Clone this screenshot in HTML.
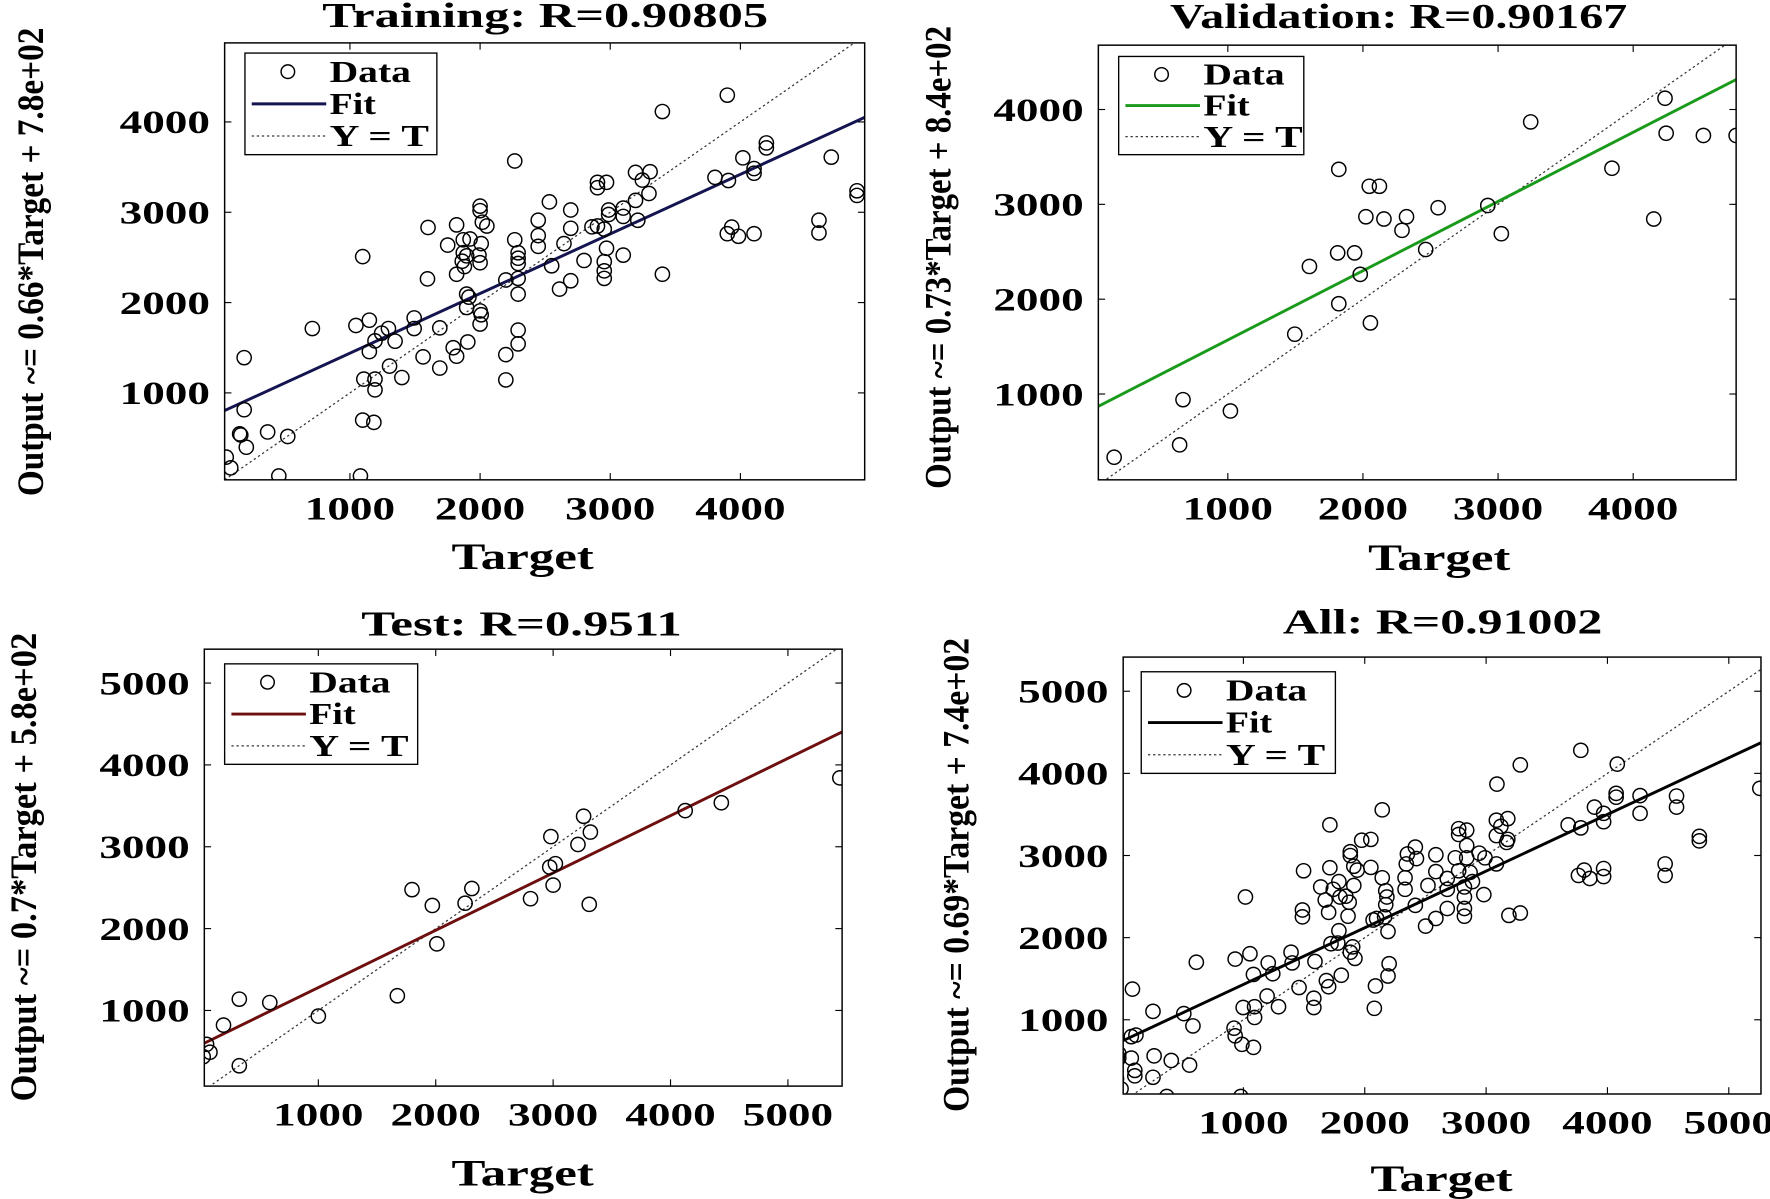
<!DOCTYPE html>
<html><head><meta charset="utf-8"><style>
html,body{margin:0;padding:0;background:#fff;}
svg{display:block;}
text{font-family:"Liberation Serif",serif;font-weight:bold;fill:#000;}
</style></head><body>
<svg id="s" width="1770" height="1199" viewBox="0 0 1568 1062" preserveAspectRatio="none" xmlns="http://www.w3.org/2000/svg"></svg>
<script>
const S=document.getElementById('s');let h='';
function T(x,y,fs,anchor,len,s){return `<text x="${x}" y="${y}" font-size="${fs}" text-anchor="${anchor}" textLength="${len}" lengthAdjust="spacingAndGlyphs">${s}</text>`;}
function P(o){
 const [x1,y1,x2,y2]=o.box;
 const X=d=>o.x0+d*o.kx, Y=d=>o.y0-d*o.ky;
 const dx1=(x1-o.x0)/o.kx, dx2=(x2-o.x0)/o.kx;
 h+=`<clipPath id="c${o.id}"><rect x="${x1}" y="${y1}" width="${x2-x1}" height="${y2-y1}"/></clipPath>`;
 h+=`<g clip-path="url(#c${o.id})">`;
 h+=`<line x1="${X(dx1)}" y1="${Y(dx1)}" x2="${X(dx2)}" y2="${Y(dx2)}" stroke="#333" stroke-width="1.1" stroke-dasharray="2,2.5"/>`;
 h+=`<line x1="${x1}" y1="${Y(o.a*dx1+o.b)}" x2="${x2}" y2="${Y(o.a*dx2+o.b)}" stroke="${o.col}" stroke-width="2.6"/>`;
 o.pts.forEach(p=>{const q=o.map(p);h+=`<circle cx="${q[0].toFixed(1)}" cy="${q[1].toFixed(1)}" r="6.3" fill="none" stroke="#000" stroke-width="1.3"/>`;});
 h+=`</g>`;
 h+=`<rect x="${x1}" y="${y1}" width="${x2-x1}" height="${y2-y1}" fill="none" stroke="#000" stroke-width="1.3"/>`;
 o.xt.forEach(t=>{const x=X(t);h+=`<line x1="${x}" y1="${y2}" x2="${x}" y2="${y2-6}" stroke="#000"/><line x1="${x}" y1="${y1}" x2="${x}" y2="${y1+6}" stroke="#000"/>`+T(x,y2+35,29,"middle",80,t);});
 o.yt.forEach(t=>{const y=Y(t);h+=`<line x1="${x1}" y1="${y}" x2="${x1+6}" y2="${y}" stroke="#000"/><line x1="${x2}" y1="${y}" x2="${x2-6}" y2="${y}" stroke="#000"/>`+T(x1-13,y+10,29,"end",80,t);});
 const [lx,ly,lw,lh]=o.leg;
 h+=`<rect x="${lx}" y="${ly}" width="${lw}" height="${lh}" fill="#fff" stroke="#000" stroke-width="1.2"/>`;
 const r=lh/3;
 h+=`<circle cx="${lx+38}" cy="${ly+r*0.55}" r="6" fill="none" stroke="#000" stroke-width="1.3"/>`;
 h+=T(lx+75,ly+r*0.55+9,27,"start",72,"Data");
 h+=`<line x1="${lx+6}" y1="${ly+r*1.5}" x2="${lx+72}" y2="${ly+r*1.5}" stroke="${o.col}" stroke-width="2.6"/>`;
 h+=T(lx+75,ly+r*1.5+9,27,"start",41,"Fit");
 h+=`<line x1="${lx+6}" y1="${ly+r*2.45}" x2="${lx+72}" y2="${ly+r*2.45}" stroke="#333" stroke-width="1.1" stroke-dasharray="2,2.5"/>`;
 h+=T(lx+75,ly+r*2.45+9,27,"start",88,"Y = T");
 h+=T(o.t[0],o.t[1],31,"middle",o.t[2],o.title);
 h+=T(o.xl[0],o.xl[1],33,"middle",126,"Target");
 h+=`<text transform="translate(${o.yl[0]},${o.yl[1]}) rotate(-90)" font-size="33" text-anchor="middle" textLength="${o.yl[2]}" lengthAdjust="spacingAndGlyphs">${o.ylab}</text>`;
}
const id=p=>p;
const tr=[[1292,248],[1176,291],[912,420],[1478,410],[1320,412],[1362,373],[1362,386],[1340,440],[1340,452],[1270,463],[1294,471],[1524,498],[1524,510],[1154,448],[1128,450],[1140,470],[1152,505],[1128,523],[1060,476],[1060,490],[1076,476],[974,527],[1012,548],[1080,548],[1080,560],[1106,543],[1106,565],[1132,575],[954,575],[850,538],[850,550],[854,580],[862,590],[757,594],[808,587],[1456,575],[1456,608],[1292,610],[1300,593],[1312,617],[1340,610],[1012,596],[1050,592],[1060,590],[1072,598],[954,615],[912,626],[1000,636],[832,624],[820,626],[792,640],[852,636],[954,643],[918,660],[918,674],[918,688],[820,660],[826,668],[818,682],[848,666],[850,686],[808,716],[822,696],[978,694],[1036,680],[1072,683],[1072,707],[1072,727],[1106,666],[1076,648],[1176,716],[1012,733],[992,755],[896,731],[918,727],[918,768],[756,728],[640,670],[826,768],[830,776],[826,803],[850,812],[852,822],[850,846],[778,856],[732,830],[732,858],[628,850],[652,836],[550,858],[686,858],[674,870],[662,890],[698,891],[652,918],[748,932],[802,908],[808,930],[828,893],[896,926],[918,862],[918,898],[778,961],[688,956],[710,986],[642,990],[662,990],[662,1018],[896,992],[428,934],[428,1070],[420,1133],[422,1136],[470,1128],[506,1140],[432,1168],[396,1194],[404,1222],[490,1243],[636,1243],[640,1097],[660,1103]];
P({id:1,box:[199,38,766,425],x0:194.7,kx:0.1153,y0:428,ky:0.080,a:0.66,b:780,col:"#141450",
 pts:tr,map:p=>{let px=194.7+(p[0]-409)*0.5086;px=585+(px-585)*0.974+2;return [px,428-(1262-p[1])*0.339];},
 xt:[1000,2000,3000,4000],yt:[1000,2000,3000,4000],leg:[217,47,170,90],
 t:[483,24,395],title:"Training: R=0.90805",xl:[463,504],yl:[38,232,415],ylab:"Output ~= 0.66*Target + 7.8e+02"});
const va=[[1475,87],[1356,108],[1476,118],[1509,120],[1538,120],[1428,149],[1465,194],[1186,150],[1213,165],[1222,165],[1210,192],[1226,194],[1246,192],[1274,184],[1242,204],[1318,182],[1330,207],[1263,221],[1160,236],[1185,224],[1200,224],[1205,243],[1186,269],[1214,286],[1147,296],[1048,354],[1090,364],[1045,394],[987,405]];
P({id:2,box:[973,40,1538,425],x0:968,kx:0.1197,y0:433,ky:0.084,a:0.73,b:840,col:"#1a9a1a",
 pts:va,map:id,xt:[1000,2000,3000,4000],yt:[1000,2000,3000,4000],leg:[991,50,164,87],
 t:[1239,25,405],title:"Validation: R=0.90167",xl:[1275,505],yl:[842,228,410],ylab:"Output ~= 0.73*Target + 8.4e+02"});
const te=[[744,689],[639,711],[607,718],[517,723],[523,737],[488,741],[512,748],[487,768],[492,765],[490,784],[470,796],[522,801],[418,787],[412,800],[383,802],[387,836],[365,788],[352,882],[282,900],[239,888],[212,885],[198,908],[183,925],[186,932],[180,936],[212,944]];
P({id:3,box:[181,575,746,962],x0:178,kx:0.104,y0:967.5,ky:0.0725,a:0.70,b:580,col:"#6e0f0f",
 pts:te,map:id,xt:[1000,2000,3000,4000,5000],yt:[1000,2000,3000,4000,5000],leg:[199,588,171,89],
 t:[462,563,284],title:"Test: R=0.9511",xl:[463,1050],yl:[32,768,415],ylab:"Output ~= 0.7*Target + 5.8e+02"});
const al=[[1234,388],[1128,426],[1298,424],[1087,476],[1548,487],[1296,500],[1296,510],[1338,506],[1402,507],[1402,536],[1338,552],[1258,536],[1274,552],[1274,574],[1212,582],[1234,590],[1086,570],[1106,566],[1106,620],[1094,586],[1086,610],[1104,628],[1442,612],[1442,624],[1382,684],[1382,714],[1240,700],[1230,714],[1250,722],[1274,696],[1274,717],[886,543],[794,582],[850,622],[866,620],[830,652],[830,662],[836,690],[842,700],[866,693],[944,640],[946,670],[980,660],[1020,592],[1020,607],[1034,596],[1034,636],[1014,668],[1034,668],[1056,656],[1066,668],[1086,684],[1064,764],[1108,818],[1128,812],[928,684],[926,720],[980,704],[1020,702],[1040,706],[748,702],[794,694],[778,744],[810,730],[800,750],[786,778],[812,770],[822,768],[836,740],[828,784],[826,820],[886,720],[892,754],[894,770],[892,790],[890,822],[926,750],[944,792],[966,740],[1000,750],[1000,800],[980,826],[962,846],[1030,744],[1030,770],[1030,800],[1030,820],[1044,730],[746,804],[746,822],[792,810],[876,826],[870,830],[810,858],[796,892],[808,890],[834,900],[830,914],[838,930],[896,860],[646,770],[628,932],[654,918],[560,940],[686,942],[726,914],[728,942],[694,970],[660,972],[740,1006],[768,938],[766,1034],[766,1058],[788,988],[792,1004],[814,974],[874,1002],[872,1060],[898,944],[896,976],[684,1028],[704,1056],[662,1056],[662,1084],[642,1058],[626,1112],[628,1132],[640,1154],[660,1162],[448,1010],[484,1068],[538,1074],[554,1106],[454,1130],[446,1134],[424,1178],[424,1190],[446,1190],[418,1214],[452,1222],[452,1236],[420,1244],[486,1184],[516,1196],[548,1208],[484,1240],[428,1270],[508,1290],[638,1290],[930,658],[1000,722]];
P({id:4,box:[995,582,1560,969],x0:994,kx:0.1075,y0:976,ky:0.07275,a:0.69,b:740,col:"#000",
 pts:al,map:p=>{let px=994+(p[0]-408)/0.2115*0.1075;px=px-11-(px-1000)*0.006;return [px,976-(1304-p[1])/0.214*0.07275];},
 xt:[1000,2000,3000,4000,5000],yt:[1000,2000,3000,4000,5000],leg:[1011,595,172,90],
 t:[1278,561,283],title:"All: R=0.91002",xl:[1277,1055],yl:[858,775,420],ylab:"Output ~= 0.69*Target + 7.4e+02"});
S.innerHTML=h;
</script>
</body></html>
